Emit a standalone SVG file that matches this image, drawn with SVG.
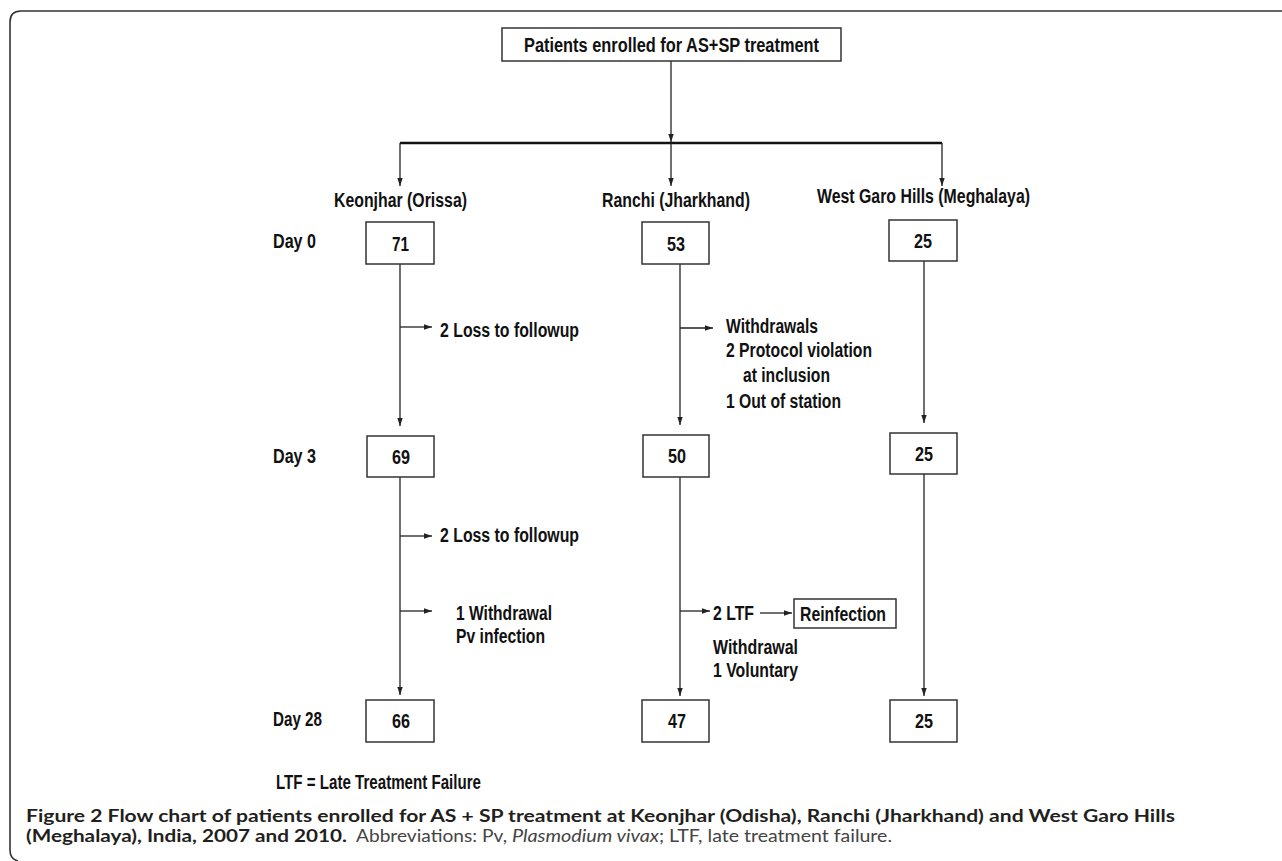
<svg xmlns="http://www.w3.org/2000/svg" width="1282" height="861" viewBox="0 0 1282 861">
<style>
.t{font-family:"Liberation Sans Narrow","Arial Narrow","Liberation Sans",sans-serif;font-weight:bold;font-size:19.5px;fill:#111;}
.m{text-anchor:middle;}
.box{fill:#fff;stroke:#333;stroke-width:1.5;}
.ln{fill:none;stroke:#222;stroke-width:1.3;}
.cap{font-family:Lato,"Open Sans",sans-serif;font-size:16.5px;fill:#231f20;}
.b{font-weight:bold;}
.n{fill:#444;}
</style>
<defs>
<marker id="ah" markerWidth="8" markerHeight="8" viewBox="0 0 8 8" refX="8" refY="4" orient="auto" markerUnits="userSpaceOnUse">
<path d="M0,1.3 L8,4 L0,6.7 Z" fill="#222"/>
</marker>
</defs>
<rect width="1282" height="861" fill="#fff"/>
<path d="M1282,11 H21 Q10,11 10,22 V850 Q10,859 18,861" fill="none" stroke="#333" stroke-width="1.6"/>

<g id="connectors">
<line class="ln" x1="671" y1="61" x2="671" y2="142" marker-end="url(#ah)"/>
<path d="M400,143 H942" fill="none" stroke="#111" stroke-width="2.5"/>
<line class="ln" x1="400" y1="143" x2="400" y2="186" marker-end="url(#ah)"/>
<line class="ln" x1="671" y1="143" x2="671" y2="186" marker-end="url(#ah)"/>
<line class="ln" x1="942" y1="143" x2="942" y2="186" marker-end="url(#ah)"/>
<line class="ln" x1="400" y1="264" x2="400" y2="426" marker-end="url(#ah)"/>
<line class="ln" x1="680" y1="264" x2="680" y2="425" marker-end="url(#ah)"/>
<line class="ln" x1="924" y1="261" x2="924" y2="423" marker-end="url(#ah)"/>
<line class="ln" x1="400" y1="477" x2="400" y2="695" marker-end="url(#ah)"/>
<line class="ln" x1="680" y1="477" x2="680" y2="696" marker-end="url(#ah)"/>
<line class="ln" x1="924" y1="474" x2="924" y2="696" marker-end="url(#ah)"/>
<line class="ln" x1="400" y1="327" x2="432" y2="327" marker-end="url(#ah)"/>
<line class="ln" x1="400" y1="536" x2="432" y2="536" marker-end="url(#ah)"/>
<line class="ln" x1="400" y1="611" x2="432" y2="611" marker-end="url(#ah)"/>
<line class="ln" x1="680" y1="328" x2="713" y2="328" marker-end="url(#ah)"/>
<line class="ln" x1="680" y1="611" x2="710" y2="611" marker-end="url(#ah)"/>
<line class="ln" x1="760" y1="613" x2="792" y2="613" marker-end="url(#ah)"/>
</g>

<g id="n-top">
<rect class="box" x="502" y="28" width="339" height="33"/>
<text class="t" x="524" y="52" textLength="295" lengthAdjust="spacingAndGlyphs">Patients enrolled for AS+SP treatment</text>
</g>

<g id="sites">
<text class="t" x="334" y="207" textLength="133" lengthAdjust="spacingAndGlyphs">Keonjhar (Orissa)</text>
<text class="t" x="602" y="207" textLength="148" lengthAdjust="spacingAndGlyphs">Ranchi (Jharkhand)</text>
<text class="t" x="817" y="203" textLength="213" lengthAdjust="spacingAndGlyphs">West Garo Hills (Meghalaya)</text>
</g>

<g id="days">
<text class="t" x="273" y="248" textLength="43" lengthAdjust="spacingAndGlyphs">Day 0</text>
<text class="t" x="273" y="463" textLength="43" lengthAdjust="spacingAndGlyphs">Day 3</text>
<text class="t" x="273" y="726" textLength="49" lengthAdjust="spacingAndGlyphs">Day 28</text>
</g>

<g id="n-k0"><rect class="box" x="366" y="222" width="68" height="42"/><text class="t" x="392" y="251" textLength="17" lengthAdjust="spacingAndGlyphs">71</text></g>
<g id="n-r0"><rect class="box" x="642" y="222" width="67" height="42"/><text class="t" x="667" y="251" textLength="18" lengthAdjust="spacingAndGlyphs">53</text></g>
<g id="n-w0"><rect class="box" x="889" y="220" width="68" height="41"/><text class="t" x="914" y="248" textLength="18" lengthAdjust="spacingAndGlyphs">25</text></g>

<g id="n-k3"><rect class="box" x="367" y="436" width="67" height="41"/><text class="t" x="392" y="464" textLength="18" lengthAdjust="spacingAndGlyphs">69</text></g>
<g id="n-r3"><rect class="box" x="643" y="435" width="66" height="42"/><text class="t" x="668" y="463" textLength="18" lengthAdjust="spacingAndGlyphs">50</text></g>
<g id="n-w3"><rect class="box" x="890" y="433" width="67" height="41"/><text class="t" x="915" y="461" textLength="18" lengthAdjust="spacingAndGlyphs">25</text></g>

<g id="n-k28"><rect class="box" x="366" y="700" width="68" height="42"/><text class="t" x="392" y="728" textLength="18" lengthAdjust="spacingAndGlyphs">66</text></g>
<g id="n-r28"><rect class="box" x="642" y="700" width="67" height="42"/><text class="t" x="668" y="728" textLength="18" lengthAdjust="spacingAndGlyphs">47</text></g>
<g id="n-w28"><rect class="box" x="890" y="700" width="67" height="42"/><text class="t" x="915" y="728" textLength="18" lengthAdjust="spacingAndGlyphs">25</text></g>

<g id="n-reinf">
<rect class="box" x="794" y="599" width="102" height="29"/>
<text class="t" x="800" y="621" textLength="86" lengthAdjust="spacingAndGlyphs">Reinfection</text>
</g>

<g id="labels">
<text class="t" x="440" y="337" textLength="139" lengthAdjust="spacingAndGlyphs">2 Loss to followup</text>
<text class="t" x="440" y="542" textLength="139" lengthAdjust="spacingAndGlyphs">2 Loss to followup</text>
<text class="t" x="456" y="620" textLength="96" lengthAdjust="spacingAndGlyphs">1 Withdrawal</text>
<text class="t" x="456" y="643" textLength="89" lengthAdjust="spacingAndGlyphs">Pv infection</text>
<text class="t" x="726" y="333" textLength="92" lengthAdjust="spacingAndGlyphs">Withdrawals</text>
<text class="t" x="726" y="357" textLength="146" lengthAdjust="spacingAndGlyphs">2 Protocol violation</text>
<text class="t" x="743" y="382" textLength="87" lengthAdjust="spacingAndGlyphs">at inclusion</text>
<text class="t" x="726" y="408" textLength="115" lengthAdjust="spacingAndGlyphs">1 Out of station</text>
<text class="t" x="713" y="620" textLength="41" lengthAdjust="spacingAndGlyphs">2 LTF</text>
<text class="t" x="713" y="654" textLength="85" lengthAdjust="spacingAndGlyphs">Withdrawal</text>
<text class="t" x="713" y="677" textLength="85" lengthAdjust="spacingAndGlyphs">1 Voluntary</text>
<text class="t" x="276" y="789" textLength="205" lengthAdjust="spacingAndGlyphs">LTF = Late Treatment Failure</text>
</g>

<g id="caption">
<text class="cap b" x="26" y="822" textLength="1149" lengthAdjust="spacingAndGlyphs">Figure 2 Flow chart of patients enrolled for AS + SP treatment at Keonjhar (Odisha), Ranchi (Jharkhand) and West Garo Hills</text>
<text class="cap b" x="26" y="842" textLength="321" lengthAdjust="spacingAndGlyphs">(Meghalaya), India, 2007 and 2010.</text>
<text class="cap n" x="356" y="842" textLength="151" lengthAdjust="spacingAndGlyphs">Abbreviations: Pv,</text>
<text class="cap n" x="512" y="842" font-style="italic" textLength="147" lengthAdjust="spacingAndGlyphs">Plasmodium vivax</text>
<text class="cap n" x="659" y="842" textLength="233" lengthAdjust="spacingAndGlyphs">; LTF, late treatment failure.</text>
</g>
</svg>
